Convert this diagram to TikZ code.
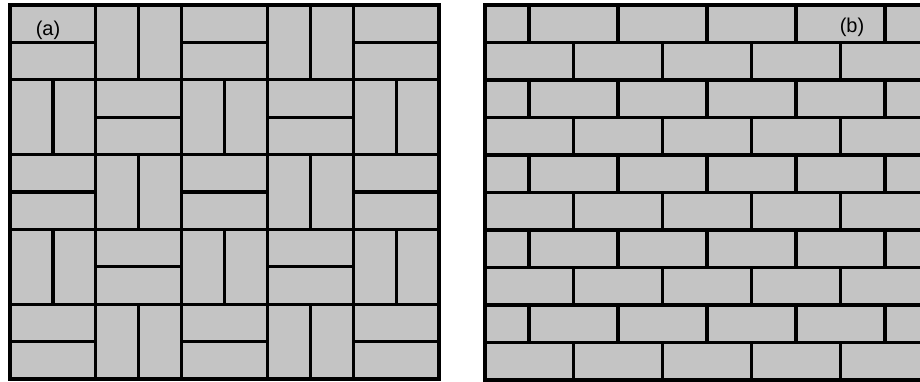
\documentclass[tikz,border=0pt]{standalone}
\usepackage{fontspec}
\setmainfont{Liberation Sans}
\definecolor{tilegray}{RGB}{196,196,196}

\begin{document}
\begin{tikzpicture}[x=1pt, y=-1pt,
tile/.style={draw=black, line width=3.2pt, fill=tilegray},
joint/.style={draw=black, line width=3.2pt},
tag/.style={font=\fontsize{20}{22}\selectfont, inner sep=0pt}
]
\useasboundingbox (0,0) rectangle (920,381);
% (a) basket weave, 5 x 5 cells
\foreach \i in {0,...,4}
  \foreach \j in {0,...,4}{
    \pgfmathsetmacro{\xa}{10+85.8*\i}
    \pgfmathsetmacro{\ya}{5+74.8*\j}
    \pgfmathtruncatemacro{\split}{mod(\i+\j,2)}
    \draw[tile] (\xa,\ya) rectangle ++(85.8,74.8);
    \ifnum\split=0
      \draw[joint] (\xa,\ya+37.4) -- ++(85.8,0);
    \else
      \draw[joint] (\xa+42.9,\ya) -- ++(0,74.8);
    \fi
  }
\node[tag] (taga) at (48,30) {(a)};
% (b) running bond, 10 courses
\begin{scope}
  \clip (485,5) rectangle (930,380);
  \fill[tilegray] (485,5) rectangle (930,380);
  \foreach \r in {1,...,9}
    \draw[joint] (485,5+37.5*\r) -- (930,5+37.5*\r);
  \foreach \r in {0,...,9}{
    \pgfmathtruncatemacro{\odd}{mod(\r,2)}
    \pgfmathsetmacro{\xo}{\odd==0 ? 529 : 573.5}
    \foreach \k in {0,...,4}
      \draw[joint] (\xo+89*\k,5+37.5*\r) -- ++(0,37.5);
  }
\end{scope}
\draw[joint] (930,5) -- (485,5) -- (485,380) -- (930,380);
\node[tag] (tagb) at (852,27) {(b)};
\end{tikzpicture}
\end{document}
